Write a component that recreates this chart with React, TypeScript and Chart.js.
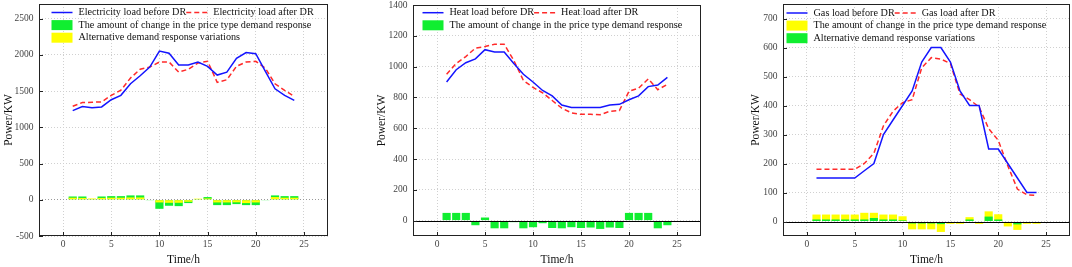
import React, { useEffect, useRef } from "react";
import { Chart, registerables } from "chart.js";

Chart.register(...registerables);
Chart.defaults.font.family = '"Liberation Serif", "Times New Roman", serif';

// ---------- data ----------
const hours = [1, 2, 3, 4, 5, 6, 7, 8, 9, 10, 11, 12, 13, 14, 15, 16, 17, 18, 19, 20, 21, 22, 23, 24];
const xTicks = [0, 5, 10, 15, 20, 25];

const elecBefore = [1230, 1285, 1270, 1280, 1380, 1440, 1600, 1710, 1830, 2050, 2020, 1860, 1860, 1900, 1840, 1720, 1760, 1950, 2030, 2015, 1770, 1530, 1440, 1370];
const elecAfter = [1290, 1340, 1345, 1350, 1440, 1510, 1680, 1800, 1830, 1900, 1900, 1760, 1800, 1885, 1910, 1620, 1655, 1840, 1900, 1910, 1815, 1600, 1510, 1425];
const elecPriceDR = [45, 45, 10, 45, 50, 50, 60, 60, -5, -125, -83, -88, -46, 10, 37, -74, -74, -60, -74, -74, -5, 60, 50, 50];
const elecAltDR = [28, 25, 18, 25, 28, 28, 32, 32, 0, -37, -42, -42, -28, 15, 18, -37, -37, -35, -46, -37, 0, 37, 28, 28];
const elecYTicks = [-500, 0, 500, 1000, 1500, 2000, 2500];

const heatBefore = [900, 980, 1025, 1050, 1110, 1095, 1095, 1020, 950, 900, 845, 810, 750, 735, 735, 735, 735, 750, 755, 785, 810, 870, 880, 930];
const heatAfter = [950, 1020, 1065, 1120, 1130, 1145, 1145, 1040, 910, 865, 830, 780, 730, 700, 690, 690, 688, 710, 715, 840, 860, 920, 850, 885];
const heatPriceDR = [50, 50, 50, -30, 20, -50, -50, -10, -50, -43, -17, -48, -50, -43, -48, -45, -54, -45, -48, 50, 50, 50, -50, -30];
const heatYTicks = [0, 200, 400, 600, 800, 1000, 1200, 1400];

const gasBefore = [150, 150, 150, 150, 150, 175, 200, 300, 350, 400, 450, 550, 600, 600, 550, 450, 400, 400, 250, 250, 200, 150, 100, 100];
const gasAfter = [180, 180, 180, 180, 180, 200, 235, 330, 380, 410, 420, 530, 565, 560, 545, 440, 420, 395, 320, 280, 192, 112, 92, 90];
const gasPriceDR = [24, 24, 24, 24, 24, 30, 30, 24, 24, 18, -27, -27, -27, -36, -8, -8, 15, -8, 35, 25, -17, -29, -8, -8];
const gasAltDR = [7, 7, 7, 7, 7, 7, 12, 7, 7, 4, -7, -7, -7, -9, -2, -2, 7, -2, 17, 7, -4, -10, -2, -2];
const gasYTicks = [0, 100, 200, 300, 400, 500, 600, 700];

const BLUE = "#1414ff";
const RED = "#ff2a2a";
const GREEN = "#10ee30";
const YELLOW = "#ffff00";

const pts = (vals: number[]) => hours.map((h, i) => ({ x: h, y: vals[i] }));

// ---------- plugin: frame, inward ticks, zero line, legend ----------
const decorPlugin = {
  id: "decor",
  afterDatasetsDraw(chart: any, _args: any, opts: any) {
    if (!opts.zeroLine) return;
    const { ctx, chartArea: a, scales } = chart;
    const y = Math.round(scales.y.getPixelForValue(0)) + 0.5;
    ctx.save();
    ctx.strokeStyle = "#000";
    ctx.lineWidth = 1;
    ctx.beginPath();
    ctx.moveTo(a.left, y);
    ctx.lineTo(a.right, y);
    ctx.stroke();
    ctx.restore();
  },
  afterDraw(chart: any, _args: any, opts: any) {
    const { ctx, chartArea: a, scales } = chart;
    ctx.save();
    // frame
    ctx.strokeStyle = "#222";
    ctx.lineWidth = 1;
    ctx.strokeRect(Math.round(a.left) + 0.5, Math.round(a.top) + 0.5, Math.round(a.width) - 1, Math.round(a.height) - 1);
    // inward ticks
    ctx.beginPath();
    xTicks.forEach((v) => {
      const x = Math.round(scales.x.getPixelForValue(v)) + 0.5;
      ctx.moveTo(x, a.bottom);
      ctx.lineTo(x, a.bottom - 4);
    });
    (opts.yTicks as number[]).forEach((v) => {
      const y = Math.round(scales.y.getPixelForValue(v)) + 0.5;
      ctx.moveTo(a.left, y);
      ctx.lineTo(a.left + 4, y);
    });
    ctx.stroke();
    // legend
    const ds = chart.data.datasets;
    ctx.font = `${opts.legendFont}px "Liberation Serif", "Times New Roman", serif`;
    ctx.textBaseline = "middle";
    ctx.textAlign = "left";
    (opts.legendRows as number[][]).forEach((row, r) => {
      let x = a.left + opts.legendX;
      const y = a.top + opts.legendY + r * opts.legendGap;
      row.forEach((i) => {
        const d = ds[i];
        if (d.type === "line") {
          ctx.strokeStyle = d.borderColor;
          ctx.lineWidth = d.borderWidth;
          ctx.setLineDash(d.borderDash || []);
          ctx.beginPath();
          ctx.moveTo(x, y);
          ctx.lineTo(x + 21, y);
          ctx.stroke();
          ctx.setLineDash([]);
        } else {
          ctx.fillStyle = d.backgroundColor;
          ctx.fillRect(x, y - 5, 21, 10);
        }
        ctx.fillStyle = "#111";
        ctx.fillText(d.label, x + 27, y);
        x += 27 + ctx.measureText(d.label).width;
      });
    });
    ctx.restore();
  },
};

type PanelCfg = {
  left: number;
  width: number;
  padRight: number;
  padTop: number;
  yw: number;
  titlePad: number;
  yMin: number;
  yMax: number;
  yTicks: number[];
  before: number[];
  after: number[];
  lineLabels: string[];
  bars: { label: string; values: number[]; color: string }[];
  zeroLine: boolean;
  zeroGridColor: string;
  legendX: number;
  legendY: number;
  legendRows: number[][];
};

const panels: PanelCfg[] = [
  {
    left: 0, width: 340, padRight: 12, padTop: 4, yw: 39, titlePad: 3.25,
    yMin: -500, yMax: 2700, yTicks: elecYTicks,
    before: elecBefore, after: elecAfter,
    lineLabels: ["Electricity load before DR", "Electricity load after DR"],
    bars: [
      { label: "The amount of change in the price type demand response", values: elecPriceDR, color: GREEN },
      { label: "Alternative demand response variations", values: elecAltDR, color: YELLOW },
    ],
    zeroLine: false, zeroGridColor: "#999",
    legendX: 12.5, legendY: 8.5, legendRows: [[0, 1], [2], [3]],
  },
  {
    left: 360, width: 350, padRight: 9, padTop: 5, yw: 53, titlePad: 15.75,
    yMin: -100, yMax: 1400, yTicks: heatYTicks,
    before: heatBefore, after: heatAfter,
    lineLabels: ["Heat load before DR", "Heat load after DR"],
    bars: [
      { label: "The amount of change in the price type demand response", values: heatPriceDR, color: GREEN },
    ],
    zeroLine: true, zeroGridColor: "#d0d0d0",
    legendX: 9.5, legendY: 7.7, legendRows: [[0, 1], [2]],
  },
  {
    left: 730, width: 342, padRight: 2, padTop: 4, yw: 53, titlePad: 19.75,
    yMin: -50, yMax: 750, yTicks: gasYTicks,
    before: gasBefore, after: gasAfter,
    lineLabels: ["Gas load before DR", "Gas load after DR"],
    bars: [
      { label: "The amount of change in the price type demand response", values: gasPriceDR, color: YELLOW },
      { label: "Alternative demand response variations", values: gasAltDR, color: GREEN },
    ],
    zeroLine: true, zeroGridColor: "#d0d0d0",
    legendX: 3.5, legendY: 9, legendRows: [[0, 1], [2], [3]],
  },
];

function buildConfig(p: PanelCfg): any {
  const datasets: any[] = [
    { type: "line", label: p.lineLabels[0], data: pts(p.before), borderColor: BLUE, borderWidth: 1.5, pointRadius: 0, tension: 0, fill: false, order: 0 },
    { type: "line", label: p.lineLabels[1], data: pts(p.after), borderColor: RED, borderWidth: 1.5, borderDash: [5, 3], pointRadius: 0, tension: 0, fill: false, order: 0 },
    ...p.bars.map((b, k) => ({
      type: "bar", label: b.label, data: pts(b.values), backgroundColor: b.color, borderWidth: 0,
      grouped: false, barPercentage: 0.85, categoryPercentage: 1, order: 2 - k,
    })),
  ];
  const gridColor = (ctx: any) => (ctx.tick && ctx.tick.value === 0 ? p.zeroGridColor : "#d0d0d0");
  return {
    type: "bar",
    data: { datasets },
    plugins: [decorPlugin],
    options: {
      responsive: false,
      animation: false,
      events: [],
      layout: { padding: { left: 0, right: p.padRight, top: p.padTop, bottom: 0 } },
      plugins: {
        legend: { display: false },
        tooltip: { enabled: false },
        decor: { zeroLine: p.zeroLine, yTicks: p.yTicks, legendFont: 10.2, legendX: p.legendX, legendY: p.legendY, legendGap: 12.6, legendRows: p.legendRows },
      },
      scales: {
        x: {
          type: "linear", min: -2.5, max: 27.5, offset: false,
          afterBuildTicks: (ax: any) => { ax.ticks = xTicks.map((v) => ({ value: v })); },
          afterFit: (s: any) => { s.height = 31; s.paddingLeft = 0; s.paddingRight = 0; },
          grid: { color: "#d0d0d0", drawTicks: false, offset: false, lineWidth: 1 },
          border: { display: false, dash: [1, 2] },
          ticks: { padding: 3, color: "#444", font: { size: 9.5 }, callback: (v: any) => String(v), maxRotation: 0, autoSkip: false },
          title: { display: true, text: "Time/h", color: "#111", font: { size: 11.5, lineHeight: 1 }, padding: { top: 0, bottom: 1.25 } },
        },
        y: {
          type: "linear", min: p.yMin, max: p.yMax,
          afterBuildTicks: (ax: any) => { ax.ticks = p.yTicks.map((v) => ({ value: v })); },
          afterFit: (s: any) => { s.width = p.yw; s.paddingTop = 0; s.paddingBottom = 0; },
          grid: { color: gridColor, drawTicks: false, lineWidth: 1 },
          border: { display: false, dash: [1, 2] },
          ticks: { padding: 5.5, color: "#444", font: { size: 9.5 }, callback: (v: any) => String(v), autoSkip: false },
          title: { display: true, text: "Power/KW", color: "#111", font: { size: 11.5, lineHeight: 1 }, padding: { top: p.titlePad, bottom: 0 } },
        },
      },
    },
  };
}

function Panel({ cfg }: { cfg: PanelCfg }) {
  const ref = useRef<HTMLCanvasElement>(null);
  useEffect(() => {
    const chart = new Chart(ref.current as HTMLCanvasElement, buildConfig(cfg));
    return () => chart.destroy();
  }, [cfg]);
  return (
    <canvas
      ref={ref}
      width={cfg.width}
      height={267}
      style={{ position: "absolute", left: cfg.left, top: 0, width: cfg.width, height: 267 }}
    />
  );
}

export default function App() {
  return (
    <div style={{ position: "absolute", left: 0, top: 0, width: 1072, height: 267, background: "#fff", overflow: "hidden" }}>
      {panels.map((p, i) => (
        <Panel key={i} cfg={p} />
      ))}
    </div>
  );
}
